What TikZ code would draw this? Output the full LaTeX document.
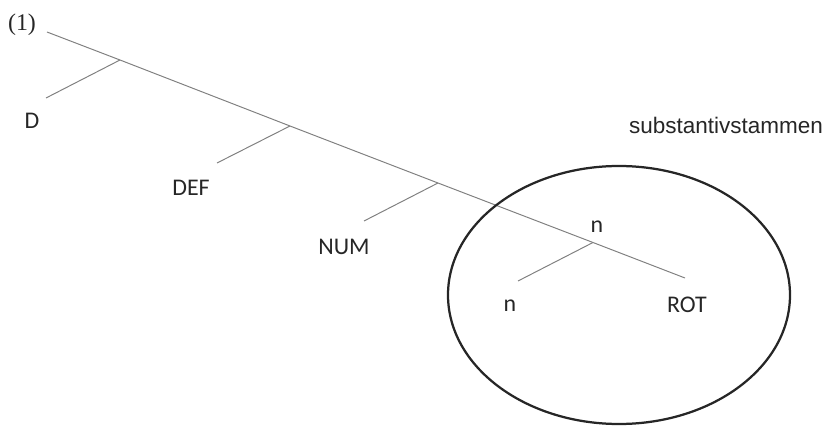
\documentclass[tikz,border=0pt]{standalone}
\usepackage{fontspec}
\setmainfont{Carlito}
\newfontfamily\arialfont{Liberation Sans}
\newfontfamily\timesfont{Liberation Serif}
\tikzset{
  branch/.style={draw=black!50,line width=0.7pt},
  lbl/.style={font=\fontsize{17}{19}\selectfont,text=black!85,inner sep=0pt},
}
\begin{document}
\begin{tikzpicture}[x=0.025cm,y=-0.025cm]
    \useasboundingbox (0,0) rectangle (828,426);

    \coordinate (R0) at (47,32);
    \coordinate (B1) at (120,60);
    \coordinate (B2) at (290,126);
    \coordinate (B3) at (438,183);
    \coordinate (B4) at (593,242.5);
    \coordinate (E0) at (685,278);
    \coordinate (L1) at (46,98);
    \coordinate (L2) at (217,163);
    \coordinate (L3) at (364,221);
    \coordinate (L4) at (518,281);
    \coordinate (C0) at (619,295);

    % spine and left branches
    \draw[branch] (R0) -- (B1) -- (B2) -- (B3) -- (B4) -- (E0);
    \draw[branch] (B1) -- (L1);
    \draw[branch] (B2) -- (L2);
    \draw[branch] (B3) -- (L3);
    \draw[branch] (B4) -- (L4);

    % the stem
    \draw[black!85,line width=1.6pt] (C0) ellipse [x radius=171, y radius=129];

    \node[lbl,font=\timesfont\fontsize{17}{19}\selectfont] (ex) at (22,25) {(1)};
    \node[lbl] (d) at (32,121) {D};
    \node[lbl] (def) at (191,188) {DEF};
    \node[lbl] (num) at (344,247) {NUM};
    \node[lbl] (ntop) at (597,227) {n};
    \node[lbl] (nbot) at (510,306) {n};
    \node[lbl] (rot) at (687,305) {ROT};
    \node[lbl,font=\arialfont\fontsize{16}{18}\selectfont] (stamm) at (726,125) {substantivstammen};
\end{tikzpicture}
\end{document}
